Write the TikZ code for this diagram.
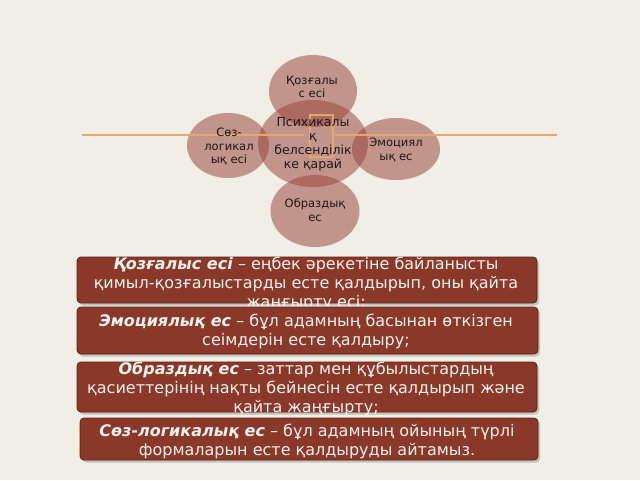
\documentclass[tikz,border=0pt]{standalone}
\usepackage{fontspec}
\setmainfont{DejaVu Sans}
\definecolor{bgc}{RGB}{240,238,229}
\definecolor{circc}{RGB}{150,62,52}
\definecolor{boxc}{RGB}{138,56,42}
\definecolor{boxd}{RGB}{95,32,22}
\definecolor{linec}{RGB}{226,168,108}
\definecolor{txtlight}{RGB}{248,242,236}
\definecolor{txtdark}{RGB}{30,22,20}
\tikzset{
  bubble/.style={ellipse, fill=circc, fill opacity=0.5, text opacity=1, draw=none, inner sep=0pt},
  bubtext/.style={text=txtdark, align=center, inner sep=0pt, font=\fontsize{11.5}{13.5}\selectfont},
  infobox/.style={rectangle, rounded corners=4pt, fill=boxc, draw=boxd, line width=0.8pt, inner sep=0pt},
  boxshadow/.style={rectangle, rounded corners=4pt, fill=black, fill opacity=0.18, draw=none, inner sep=0pt},
  infotext/.style={text=txtlight, align=center, inner sep=0pt, font=\fontsize{16}{19}\selectfont},
  axisline/.style={draw=linec, line width=1.4pt},
}
\usetikzlibrary{shapes.geometric}
\begin{document}
\begin{tikzpicture}[x=1pt,y=-1pt]
\fill[bgc] (0,0) rectangle (640,480);
\useasboundingbox (0,0) rectangle (640,480);
% bubbles
\node[bubble, minimum width=88pt, minimum height=72pt] (top) at (313,91) {};
\node[bubble, minimum width=110pt, minimum height=87pt] (mid) at (313,143.5) {};
\node[bubble, minimum width=82pt, minimum height=65pt] (left) at (228,145.5) {};
\node[bubble, minimum width=88pt, minimum height=62pt] (right) at (396,149) {};
\node[bubble, minimum width=89pt, minimum height=72pt] (bot) at (315,211) {};
% axis line
\coordinate (L1) at (82,135);
\coordinate (L2) at (304,135);
\coordinate (L3) at (335,135);
\coordinate (L4) at (557,135);
\draw[axisline] (L1) -- (L2);
\draw[axisline] (L3) -- (L4);
\coordinate (R1) at (310,115);
\coordinate (R2) at (333,157);
\draw[draw=linec, line width=1.2pt] (R1) rectangle (R2);
% bubble texts
\node[bubtext] (ttop) at (312,87) {Қозғалы\\с есі};
\node[bubtext, font=\fontsize{12.5}{14}\selectfont] (tmid) at (313,144) {Психикалы\\қ\\белсенділік\\ке қарай};
\node[bubtext] (tleft) at (229,147) {Сөз-\\логикал\\ық есі};
\node[bubtext] (tright) at (396,150) {Эмоциял\\ық ес};
\node[bubtext] (tbot) at (315,210) {Образдық\\ес};
% info boxes
\node[boxshadow, minimum width=460pt, minimum height=46pt] (s1) at (309,282.5) {};
\node[infobox, minimum width=460pt, minimum height=46pt] (b1) at (307,280) {};
\node[infotext] (t1) at (306,284) {\textbf{\textit{Қозғалыс есі}} – еңбек әрекетіне байланысты\\қимыл-қозғалыстарды есте қалдырып, оны қайта\\жаңғырту есі;};
\node[boxshadow, minimum width=461pt, minimum height=47pt] (s2) at (309.5,333) {};
\node[infobox, minimum width=461pt, minimum height=47pt] (b2) at (307.5,330.5) {};
\node[infotext] (t2) at (306,331) {\textbf{\textit{Эмоциялық ес}} – бұл адамның басынан өткізген\\сеімдерін есте қалдыру;};
\node[boxshadow, minimum width=460pt, minimum height=50pt] (s3) at (309,389.5) {};
\node[infobox, minimum width=460pt, minimum height=50pt] (b3) at (307,387) {};
\node[infotext] (t3) at (306,388.5) {\textbf{\textit{Образдық ес}} – заттар мен құбылыстардың\\қасиеттерінің нақты бейнесін есте қалдырып және\\қайта жаңғырту;};
\node[boxshadow, minimum width=458pt, minimum height=42pt] (s4) at (311,441.5) {};
\node[infobox, minimum width=458pt, minimum height=42pt] (b4) at (309,439) {};
\node[infotext] (t4) at (307,441.5) {\textbf{\textit{Сөз-логикалық ес}} – бұл адамның ойының түрлі\\формаларын есте қалдыруды айтамыз.};
\end{tikzpicture}
\end{document}
